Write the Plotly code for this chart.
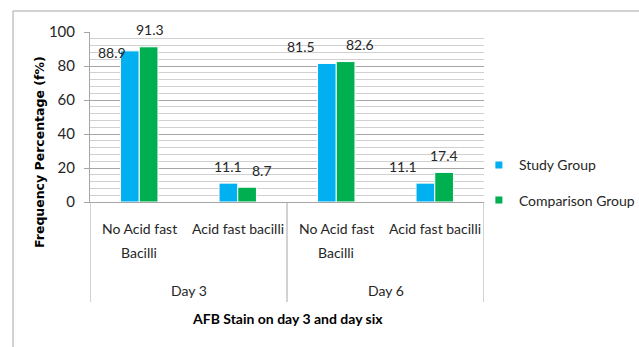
import plotly.graph_objects as go

# ---- data ----
days = ["Day 3", "Day 3", "Day 6", "Day 6"]
categories = ["No Acid fast<br>Bacilli", "Acid fast bacilli", "No Acid fast<br>Bacilli", "Acid fast bacilli"]
study_group = [88.9, 11.1, 81.5, 11.1]
comparison_group = [91.3, 8.7, 82.6, 17.4]
series_names = ["Study Group", "Comparison Group"]
y_ticks = [0, 20, 40, 60, 80, 100]

# ---- style ----
BLUE = "#00B0F0"
GREEN = "#00B050"
FONT = "Lato, Roboto, sans-serif"
TXT = "#262626"
GRID_MAJOR = "#a6a6a6"
GRID_MINOR = "#d0d0d0"
BARGAP = 0.62
# label pixel nudges (as in the original, manually placed labels)
study_shift = [(-18, -19), (0, 0), (-26, 0), (-22, 0)]
comp_shift = [(1, 0), (15, 0), (14, 0), (0, 0)]

x_idx = list(range(len(categories)))

fig = go.Figure()
fig.add_bar(x=x_idx, y=study_group, name=series_names[0], marker=dict(color=BLUE, line=dict(color="white", width=1)), showlegend=False)
fig.add_bar(x=x_idx, y=comparison_group, name=series_names[1], marker=dict(color=GREEN, line=dict(color="white", width=1)), showlegend=False)

# legend entries (small square swatches)
for nm, col, grp in [(series_names[0], BLUE, "a"), (series_names[1], GREEN, "b")]:
    fig.add_scatter(x=[None], y=[None], mode="markers", name=nm, legendgroup=grp,
                    marker=dict(symbol="square", size=7, color=col))

# data labels
half = (1 - BARGAP) / 4
annotations = []
for i, v in enumerate(study_group):
    dx, dy = study_shift[i]
    annotations.append(dict(x=i - half, y=v, xref="x", yref="y", text=f"{v}", showarrow=False,
                            yanchor="middle", xshift=dx, yshift=17 + dy,
                            font=dict(family=FONT, size=14, color=TXT)))
for i, v in enumerate(comparison_group):
    dx, dy = comp_shift[i]
    annotations.append(dict(x=i + half, y=v, xref="x", yref="y", text=f"{v}", showarrow=False,
                            yanchor="middle", xshift=dx, yshift=17 + dy,
                            font=dict(family=FONT, size=14, color=TXT)))

# inner category labels (each wrapped line placed with Excel-like spacing)
for i, c in enumerate(categories):
    for k, line in enumerate(c.split("<br>")):
        annotations.append(dict(x=i, y=0, xref="x", yref="paper", yshift=-26 - 24 * k,
                                text=line, showarrow=False, yanchor="middle",
                                font=dict(family=FONT, size=14, color=TXT)))

# outer group labels and dividers
groups = []
for i, d in enumerate(days):
    if not groups or groups[-1][0] != d:
        groups.append([d, [i]])
    else:
        groups[-1][1].append(i)
shapes = []
for d, idxs in groups:
    annotations.append(dict(x=sum(idxs) / len(idxs), y=0, xref="x", yref="paper", yshift=-88,
                            text=d, showarrow=False, yanchor="middle",
                            font=dict(family=FONT, size=14, color=TXT)))
bounds = [-0.5] + [idxs[-1] + 0.5 for _, idxs in groups]
for b in bounds:
    shapes.append(dict(type="line", xref="x", yref="paper", x0=b, x1=b, y0=0, y1=-100 / 170,
                       line=dict(color=GRID_MAJOR, width=1)))

# chart-area border (top and left)
shapes.append(dict(type="line", xref="paper", yref="paper", x0=(13 - 90) / 394, x1=1.5,
                   y0=(202 - 11) / 170, y1=(202 - 11) / 170, line=dict(color="#a6a6a6", width=1)))
shapes.append(dict(type="line", xref="paper", yref="paper", x0=(13 - 90) / 394, x1=(13 - 90) / 394,
                   y0=(202 - 11) / 170, y1=-1.0, line=dict(color="#a6a6a6", width=1)))

# axis titles
annotations.append(dict(x=0.5, y=0, xref="paper", yref="paper", yshift=-116, yanchor="middle",
                        text="<b>AFB Stain on day 3 and day six</b>", showarrow=False,
                        font=dict(family=FONT, size=14, color="#000000")))
annotations.append(dict(x=0, y=(202 - 152) / 170, xref="paper", yref="paper", xshift=-51,
                        text="<b>Frequency Percentage (f%)</b>", showarrow=False, textangle=-90,
                        xanchor="center", yanchor="middle",
                        font=dict(family="DejaVu Sans", size=12.5, color="#000000")))

fig.update_layout(
    width=639, height=347,
    margin=dict(l=90, r=155, t=32, b=145, autoexpand=False),
    paper_bgcolor="white", plot_bgcolor="white",
    barmode="group", bargap=BARGAP, bargroupgap=0,
    font=dict(family=FONT, size=14, color=TXT),
    annotations=annotations, shapes=shapes,
    legend=dict(x=0.987, xanchor="left", y=0.31, yanchor="top", tracegroupgap=14,
                font=dict(family=FONT, size=14, color=TXT), bgcolor="rgba(0,0,0,0)"),
    xaxis=dict(tickmode="array", tickvals=x_idx, ticktext=[""] * len(x_idx), range=[-0.5, len(categories) - 0.5],
               showline=True, linecolor=GRID_MAJOR, linewidth=1, ticks="", showgrid=False, zeroline=False,
               automargin=False),
    yaxis=dict(range=[0, 100], tickvals=y_ticks, showline=True, linecolor=GRID_MAJOR, linewidth=1,
               ticks="outside", ticklen=5, tickcolor=GRID_MAJOR, showgrid=True, gridcolor=GRID_MAJOR,
               zeroline=False, ticklabelstandoff=6, automargin=False,
               minor=dict(dtick=4, showgrid=True, gridcolor=GRID_MINOR, ticks=""),
               tickfont=dict(family=FONT, size=15, color=TXT)),
)

fig.write_html("out.html", config={"displayModeBar": False},
               post_script="document.body.style.margin='0';")
